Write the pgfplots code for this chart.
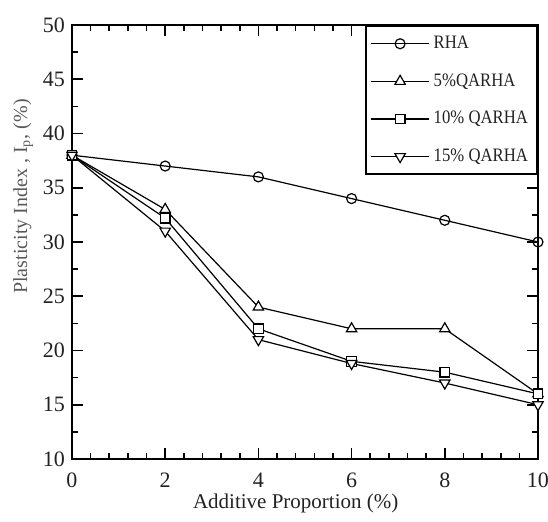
\documentclass[border=0pt]{standalone}
\usepackage{fontspec}
\setmainfont{Liberation Serif}
\usepackage{pgfplots}
\pgfplotsset{compat=1.18}
\definecolor{ylab}{HTML}{5A5A5A}
\definecolor{txt}{HTML}{222222}

\begin{document}
\begin{tikzpicture}
\begin{axis}[
    scale only axis,
    width=233pt, height=217pt,
    xmin=0, xmax=10, ymin=10, ymax=50,
    xtick={0,2,...,10}, ytick={10,15,...,50},
    minor x tick num=4, minor y tick num=1,
    tick align=inside,
    major tick length=5.5pt, minor tick length=3pt,
    axis line style={line width=1pt},
    every tick/.style={line width=0.8pt, black},
    /pgf/number format/assume math mode=true,
    ticklabel style={font=\fontsize{11}{13}\selectfont, text=txt},
    xticklabel shift=3.5pt,
    xlabel={Additive Proportion (\%)},
    ylabel={Plasticity Index , I$_{\mathrm{p}}$, (\%)},
    xlabel style={font=\fontsize{10.5}{12}\selectfont, text=txt,
        at={(axis description cs:0.48,-0.102)}, anchor=center},
    ylabel style={font=\fontsize{10}{12}\selectfont, text=ylab,
        at={(axis description cs:-0.105,0.605)}, anchor=center},
    legend style={at={(1,1)}, anchor=north east, draw=black, line width=1pt,
        font=\fontsize{9.5}{11}\selectfont\addfontfeature{FakeStretch=0.88}, text=txt,
        inner xsep=2.5pt, inner ysep=3pt, row sep=7pt,
        nodes={inner sep=2pt}},
    legend cell align=left,
    legend image code/.code={
        \draw[mark repeat=2, mark phase=2, line width=0.6pt]
        plot coordinates {(0pt,0pt) (14.5pt,0pt) (29pt,0pt)};},
]
\addplot[black, line width=0.6pt,
    mark=o, mark size=2.5pt, mark options={fill=white, solid}] coordinates {
    (0,38) (2,37) (4,36) (6,34) (8,32) (10,30)};
\addlegendentry{RHA}
\addplot[black, line width=0.6pt,
    mark=triangle*, mark size=3pt, mark options={fill=white, solid}] coordinates {
    (0,38) (2,33) (4,24) (6,22) (8,22) (10,16)};
\addlegendentry{5\%QARHA}
\addplot[black, line width=0.6pt,
    mark=square*, mark size=2.4pt, mark options={fill=white, solid}] coordinates {
    (0,38) (2,32.2) (4,22) (6,19) (8,18) (10,16)};
\addlegendentry{10\% QARHA}
\addplot[black, line width=0.6pt,
    mark=triangle*, mark size=3pt, mark options={fill=white, solid, rotate=180}] coordinates {
    (0,38) (2,31) (4,21) (6,18.8) (8,17) (10,15)};
\addlegendentry{15\% QARHA}
\end{axis}
\pgfresetboundingbox
\path ([shift={(-36pt,-31.5pt)}]current axis.south west)
    rectangle ([shift={(5pt,12.5pt)}]current axis.north east);
\end{tikzpicture}
\end{document}
